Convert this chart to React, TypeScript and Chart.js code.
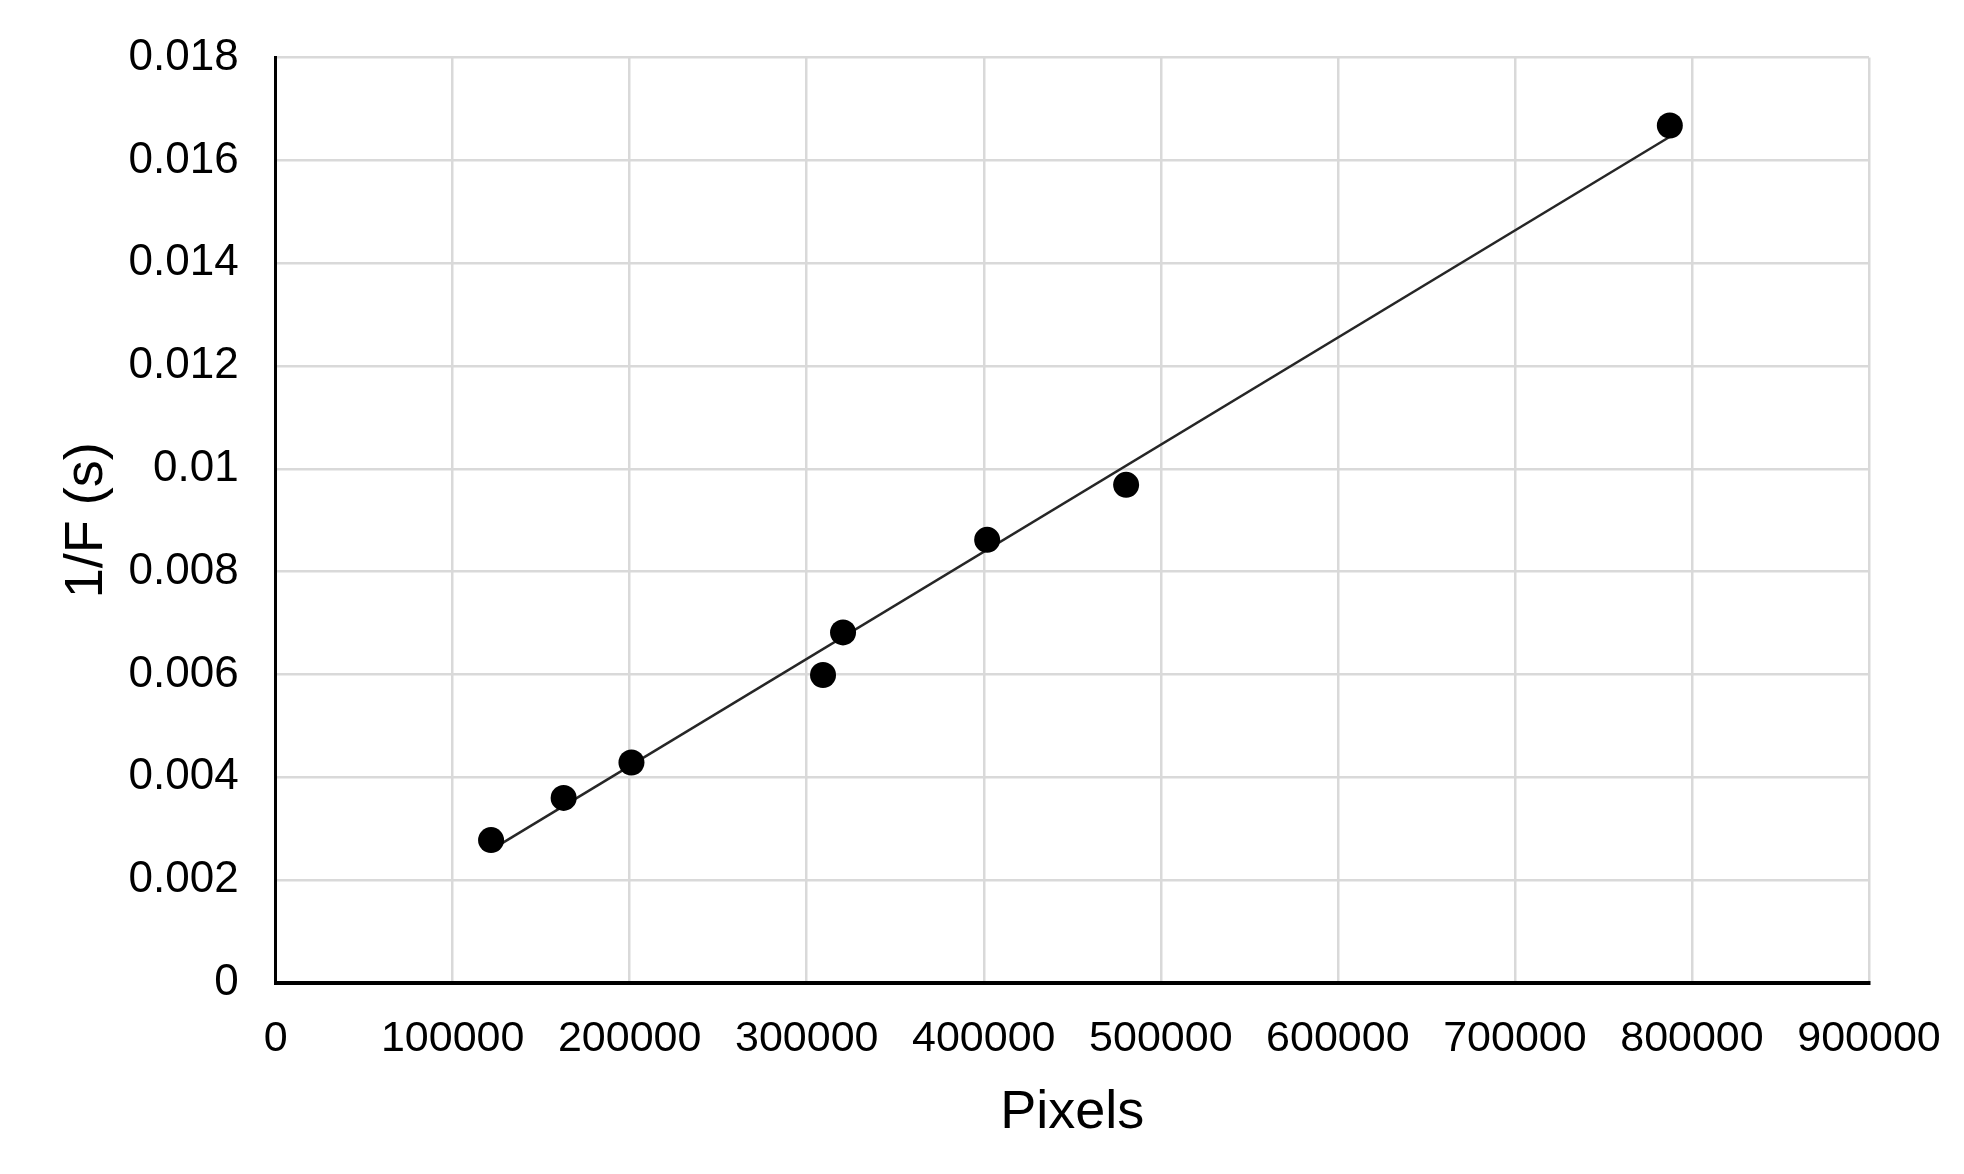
import React, { useEffect, useRef } from "react";
import { Chart, registerables } from "chart.js";

Chart.register(...registerables);

// Measured points (x: pixels, y: 1/F in seconds)
const pixelsX = [121700, 162700, 201000, 309200, 320500, 401900, 480400, 787500];
const inverseF = [0.00278, 0.0036, 0.00429, 0.00599, 0.00682, 0.00862, 0.00969, 0.01668];

// Trendline endpoints
const trendX = [121700, 787500];
const trendY = [0.00259, 0.01646];

const xTickLabels = ["0", "100000", "200000", "300000", "400000", "500000", "600000", "700000", "800000", "900000"];
const yTickLabels = ["0", "0.002", "0.004", "0.006", "0.008", "0.01", "0.012", "0.014", "0.016", "0.018"];

const xTitle = "Pixels";
const yTitle = "1/F (s)";

export default function App() {
  const ref = useRef<HTMLCanvasElement | null>(null);

  useEffect(() => {
    document.body.style.margin = "0";
    const canvas = ref.current;
    if (!canvas) return;
    const font = "Arial, 'Liberation Sans', sans-serif";
    const chart = new Chart(canvas, {
      type: "scatter",
      data: {
        datasets: [
          {
            label: "data",
            data: pixelsX.map((x, i) => ({ x, y: inverseF[i] })),
            backgroundColor: "#000000",
            borderColor: "#000000",
            borderWidth: 0,
            pointRadius: 13,
            order: 0,
          },
          {
            label: "trend",
            data: trendX.map((x, i) => ({ x, y: trendY[i] })),
            showLine: true,
            borderColor: "#262626",
            borderWidth: 2.5,
            pointRadius: 0,
            order: 1,
          } as any,
        ],
      },
      options: {
        responsive: false,
        animation: false,
        events: [],
        layout: { padding: { left: 0, right: 95, top: 57.6, bottom: 0 } },
        plugins: { legend: { display: false }, tooltip: { enabled: false } },
        scales: {
          x: {
            type: "linear",
            min: 0,
            max: 900000,
            afterFit: (axis: any) => {
              axis.height = 1174 - 983;
              axis.paddingLeft = 0;
              axis.paddingRight = 0;
            },
            ticks: {
              stepSize: 100000,
              autoSkip: false,
              maxRotation: 0,
              color: "#000",
              padding: 30,
              font: { family: font, size: 43 },
              callback: (_v: any, i: number) => xTickLabels[i],
            },
            grid: { color: "#d9d9d9", lineWidth: 2.5, drawTicks: false },
            border: { color: "#000", width: 4 },
            title: {
              display: true,
              text: xTitle,
              color: "#000",
              font: { family: font, size: 54 },
              padding: { top: 0, bottom: 28 },
            },
          },
          y: {
            type: "linear",
            min: 0,
            max: 0.018,
            afterFit: (axis: any) => {
              axis.width = 275.6;
              axis.paddingTop = 0;
              axis.paddingBottom = 0;
            },
            ticks: {
              stepSize: 0.002,
              autoSkip: false,
              color: "#000",
              padding: 37,
              font: { family: font, size: 44 },
              callback: (_v: any, i: number) => yTickLabels[i],
            },
            grid: { color: "#d9d9d9", lineWidth: 2.5, drawTicks: false },
            border: { color: "#000", width: 3 },
            title: {
              display: true,
              text: yTitle,
              color: "#000",
              font: { family: font, size: 54 },
              padding: { top: 55, bottom: 0 },
            },
          },
        },
      },
    });
    return () => chart.destroy();
  }, []);

  return (
    <div style={{ width: 1964, height: 1174, background: "#fff" }}>
      <canvas ref={ref} width={1964} height={1174} style={{ display: "block" }} />
    </div>
  );
}
